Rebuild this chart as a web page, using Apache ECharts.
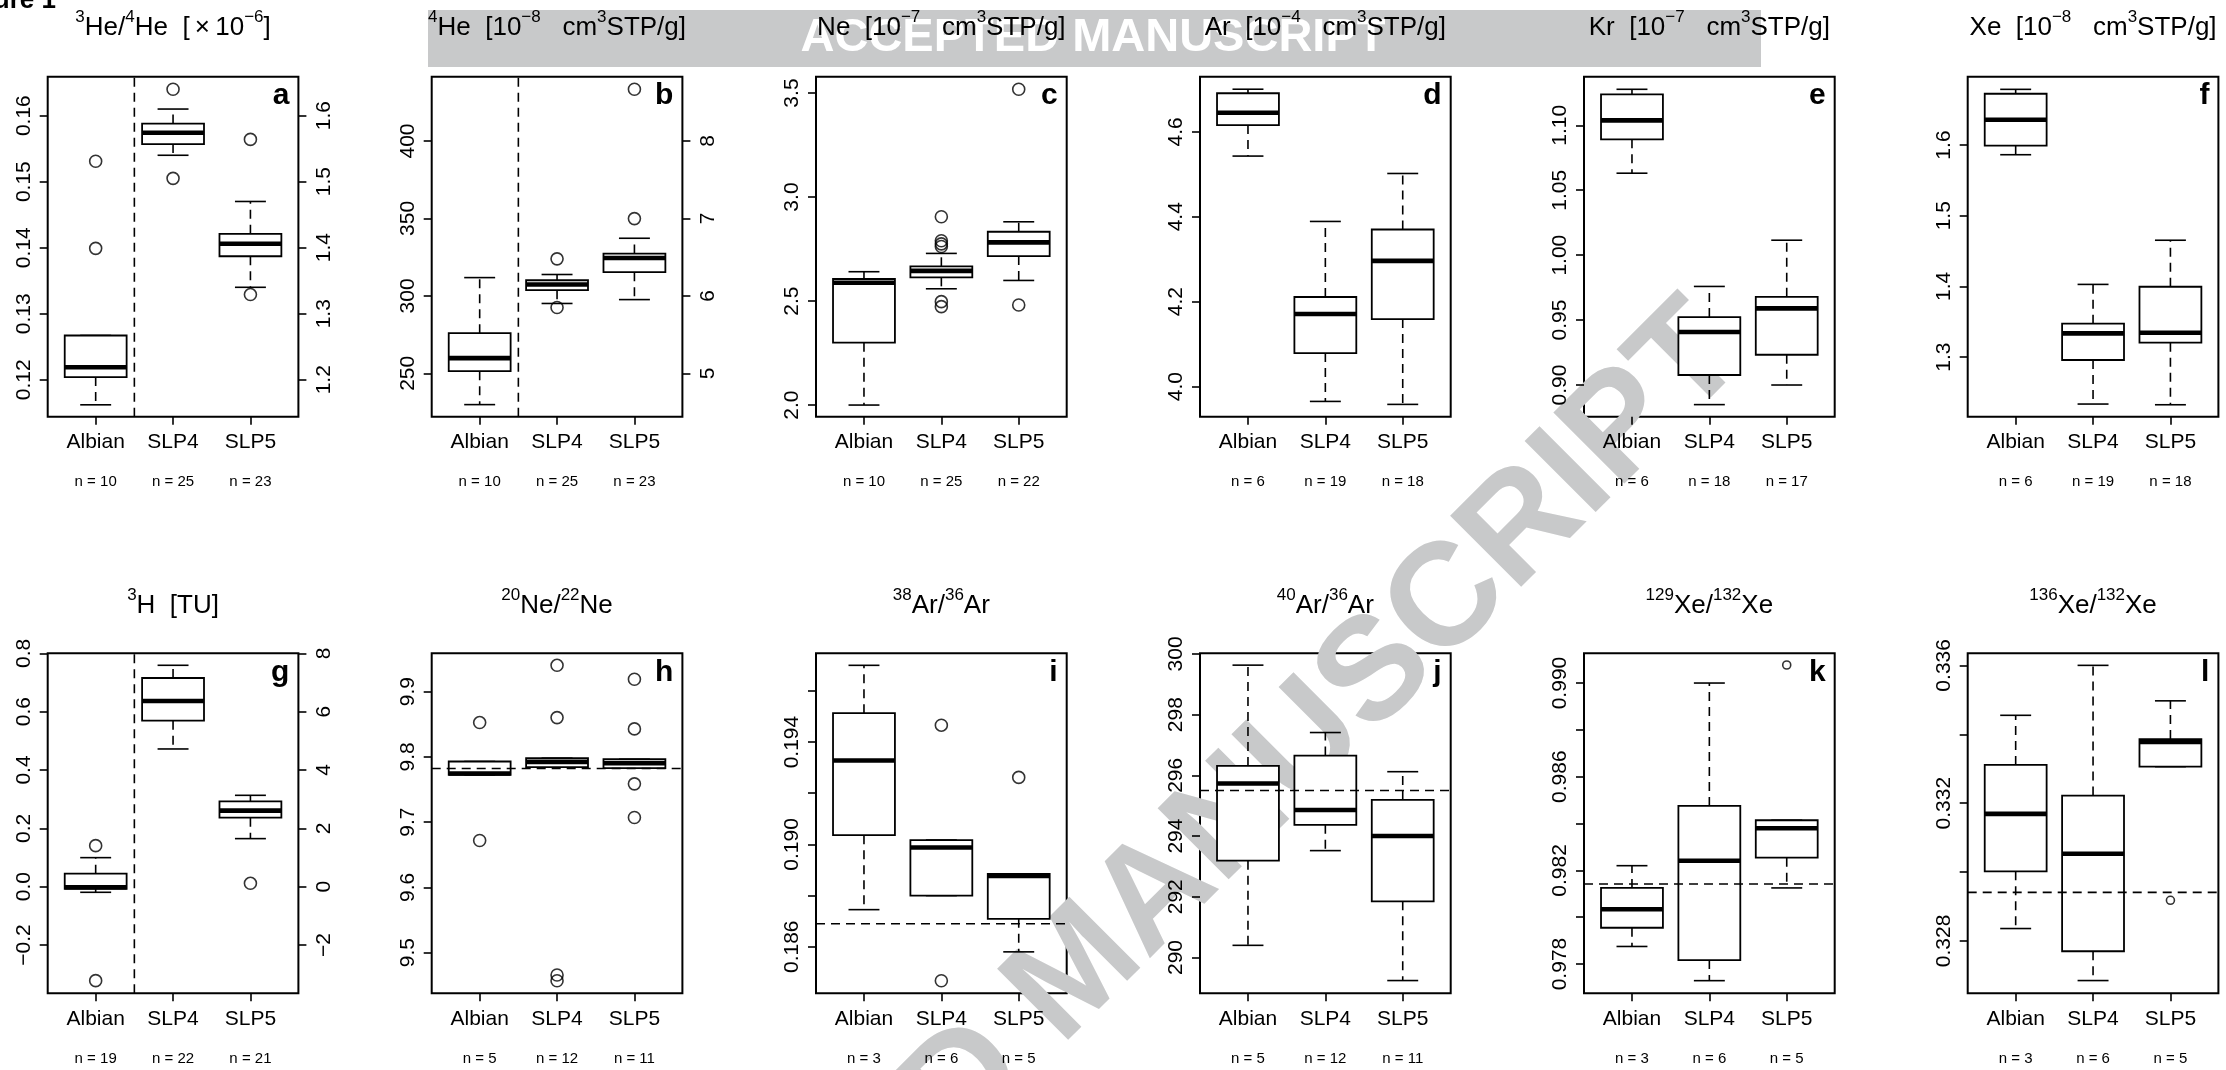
<!DOCTYPE html>
<html><head><meta charset="utf-8">
<script src="https://cdn.jsdelivr.net/npm/echarts@6/dist/echarts.min.js"></script>
<style>html,body{margin:0;padding:0;background:#fff}#c{width:2226px;height:1070px}</style>
</head><body><div id="c"></div>
<script>
const categories = ['Albian', 'SLP4', 'SLP5'];

// box stats per category: [lower whisker, Q1, median, Q3, upper whisker]
const aBox = [[0.1162, 0.1204, 0.1219, 0.1267, 0.1267], [0.1540, 0.1557, 0.1574, 0.1588, 0.1610], [0.1340, 0.1387, 0.1406, 0.1421, 0.1470]];
const aOut = [[1, 0.1531], [1, 0.1399], [2, 0.1640], [2, 0.1505], [3, 0.1564], [3, 0.1329]];
const aN = [10, 25, 23];
const aTicks = [0.12, 0.13, 0.14, 0.15, 0.16];
const aRightTicks = [1.2, 1.3, 1.4, 1.5, 1.6];

const bBox = [[229.8, 251.4, 259.8, 275.9, 311.8], [295.1, 303.7, 307.3, 310.1, 313.8], [297.6, 315.3, 324.5, 327.3, 337.2]];
const bOut = [[2, 323.9], [2, 292.5], [3, 349.9], [3, 433.4]];
const bN = [10, 25, 23];
const bTicks = [250, 300, 350, 400];
const bRightTicks = [5, 6, 7, 8];

const cBox = [[2.000, 2.300, 2.588, 2.606, 2.641], [2.559, 2.614, 2.645, 2.667, 2.729], [2.599, 2.716, 2.782, 2.833, 2.881]];
const cOut = [[2, 2.905], [2, 2.790], [2, 2.775], [2, 2.762], [2, 2.497], [2, 2.473], [3, 3.518], [3, 2.481]];
const cN = [10, 25, 22];
const cTicks = [2.0, 2.5, 3.0, 3.5];

const dBox = [[4.543, 4.616, 4.645, 4.691, 4.7005], [3.965, 4.079, 4.171, 4.211, 4.389], [3.958, 4.159, 4.296, 4.370, 4.502]];
const dOut = [];
const dN = [6, 19, 18];
const dTicks = [4.0, 4.2, 4.4, 4.6];

const eBox = [[1.0631, 1.0892, 1.1038, 1.1238, 1.1277], [0.8849, 0.9077, 0.9408, 0.9523, 0.9759], [0.9000, 0.9233, 0.9590, 0.9679, 1.0115]];
const eOut = [];
const eN = [6, 18, 17];
const eTicks = [0.90, 0.95, 1.00, 1.05, 1.10];

const fBox = [[1.5863, 1.5991, 1.6358, 1.6726, 1.6788], [1.2335, 1.2958, 1.3335, 1.3472, 1.4028], [1.2325, 1.3203, 1.3344, 1.3995, 1.4653]];
const fOut = [];
const fN = [6, 19, 18];
const fTicks = [1.3, 1.4, 1.5, 1.6];

const gBox = [[-0.0194, -0.008, -0.002, 0.0446, 0.0994], [0.4720, 0.5691, 0.6366, 0.7154, 0.7589], [0.1646, 0.2366, 0.2606, 0.2926, 0.3131]];
const gOut = [[1, 0.1406], [1, -0.3223], [3, 0.0114]];
const gN = [19, 22, 21];
const gTicks = [-0.2, 0.0, 0.2, 0.4, 0.6, 0.8];
const gRightTicks = [-2, 0, 2, 4, 6, 8];

const hBox = [[9.7724, 9.7724, 9.7745, 9.7929, 9.7929], [9.7842, 9.7842, 9.7923, 9.7980, 9.7980], [9.7827, 9.7827, 9.7903, 9.7964, 9.7964]];
const hOut = [[1, 9.8526], [1, 9.6719], [2, 9.9403], [2, 9.8602], [2, 9.4658], [2, 9.4571], [3, 9.9189], [3, 9.8429], [3, 9.7587], [3, 9.7071]];
const hN = [5, 12, 11];
const hTicks = [9.5, 9.6, 9.7, 9.8, 9.9];
const hRef = 9.7821;

const iBox = [[0.18745, 0.19036, 0.19328, 0.19513, 0.19700], [0.18800, 0.18800, 0.18988, 0.19017, 0.19017], [0.18580, 0.18709, 0.18877, 0.18885, 0.18885]];
const iOut = [[2, 0.19466], [2, 0.18467], [3, 0.19262]];
const iN = [3, 6, 5];
const iTicks = [0.186, 0.188, 0.190, 0.192, 0.194, 0.196];
const iLabels = [0.186, 0.190, 0.194];
const iRef = 0.1869;

const jBox = [[290.40, 293.19, 295.73, 296.31, 299.63], [293.52, 294.37, 294.86, 296.65, 297.41], [289.24, 291.85, 294.00, 295.19, 296.12]];
const jOut = [];
const jN = [5, 12, 11];
const jTicks = [290, 292, 294, 296, 298, 300];
const jRef = 295.5;

const kBox = [[0.97875, 0.97955, 0.98034, 0.98125, 0.98220], [0.97729, 0.97817, 0.98241, 0.98475, 0.99000], [0.98125, 0.98254, 0.98380, 0.98414, 0.98414]];
const kOut = [[3, 0.99077]];
const kN = [3, 6, 5];
const kTicks = [0.978, 0.980, 0.982, 0.984, 0.986, 0.988, 0.990];
const kLabels = [0.978, 0.982, 0.986, 0.990];
const kRef = 0.98142;

const lBox = [[0.32836, 0.33002, 0.33169, 0.33311, 0.33455], [0.32685, 0.32770, 0.33053, 0.33222, 0.33600], [0.33306, 0.33306, 0.33378, 0.33386, 0.33497]];
const lOut = [[3, 0.32918]];
const lN = [3, 6, 5];
const lTicks = [0.328, 0.330, 0.332, 0.334, 0.336];
const lLabels = [0.328, 0.332, 0.336];
const lRef = 0.32941;

const FONT = '"Liberation Sans", Arial, Helvetica, sans-serif';
const S = s => '{s|' + s + '}';
const T = s => '{t|' + s + '}';
const neg = (v, d) => (v < 0 ? '\u2212' : '') + Math.abs(v).toFixed(d);

const panels = [
  {letter: 'a', box: aBox, out: aOut, n: aN, ticks: aTicks, labels: aTicks, fmt: v => v.toFixed(2), min: 0.1144, max: 0.1659,
   right: {f: 10, ticks: aRightTicks, fmt: v => v.toFixed(1)}, vline: 1.5,
   title: S('3') + T('He/') + S('4') + T('He  [\u2009\u00d7\u200910') + S('\u22126') + T(']')},
  {letter: 'b', box: bBox, out: bOut, n: bN, ticks: bTicks, labels: bTicks, fmt: v => String(v), min: 222.0, max: 441.5,
   right: {f: 1 / 50, ticks: bRightTicks, fmt: v => String(v)}, vline: 1.5,
   title: S('4') + T('He  [10') + S('\u22128') + T('   cm') + S('3') + T('STP/g]')},
  {letter: 'c', box: cBox, out: cOut, n: cN, ticks: cTicks, labels: cTicks, fmt: v => v.toFixed(1), min: 1.944, max: 3.5785,
   title: T('Ne  [10') + S('\u22127') + T('   cm') + S('3') + T('STP/g]')},
  {letter: 'd', box: dBox, out: dOut, n: dN, ticks: dTicks, labels: dTicks, fmt: v => v.toFixed(1), min: 3.929, max: 4.730,
   title: T('Ar  [10') + S('\u22124') + T('   cm') + S('3') + T('STP/g]')},
  {letter: 'e', box: eBox, out: eOut, n: eN, ticks: eTicks, labels: eTicks, fmt: v => v.toFixed(2), min: 0.8756, max: 1.1374,
   title: T('Kr  [10') + S('\u22127') + T('   cm') + S('3') + T('STP/g]')},
  {letter: 'f', box: fBox, out: fOut, n: fN, ticks: fTicks, labels: fTicks, fmt: v => v.toFixed(1), min: 1.2156, max: 1.6967,
   title: T('Xe  [10') + S('\u22128') + T('   cm') + S('3') + T('STP/g]')},
  {letter: 'g', box: gBox, out: gOut, n: gN, ticks: gTicks, labels: gTicks, fmt: v => neg(v, 1), min: -0.3657, max: 0.8,
   right: {f: 10, ticks: gRightTicks, fmt: v => neg(v, 0)}, vline: 1.5,
   title: S('3') + T('H  [TU]')},
  {letter: 'h', box: hBox, out: hOut, n: hN, ticks: hTicks, labels: hTicks, fmt: v => v.toFixed(1), min: 9.4378, max: 9.9587, ref: hRef,
   title: S('20') + T('Ne/') + S('22') + T('Ne')},
  {letter: 'i', box: iBox, out: iOut, n: iN, ticks: iTicks, labels: iLabels, fmt: v => v.toFixed(3), min: 0.18418, max: 0.19747, ref: iRef,
   title: S('38') + T('Ar/') + S('36') + T('Ar')},
  {letter: 'j', box: jBox, out: jOut, n: jN, ticks: jTicks, labels: jTicks, fmt: v => String(v), min: 288.82, max: 300.02, ref: jRef,
   title: S('40') + T('Ar/') + S('36') + T('Ar')},
  {letter: 'k', box: kBox, out: kOut, n: kN, ticks: kTicks, labels: kLabels, fmt: v => v.toFixed(3), min: 0.97675, max: 0.99127, ref: kRef, small: true,
   title: S('129') + T('Xe/') + S('132') + T('Xe')},
  {letter: 'l', box: lBox, out: lOut, n: lN, ticks: lTicks, labels: lLabels, fmt: v => v.toFixed(3), min: 0.32648, max: 0.33635, ref: lRef, small: true,
   title: S('136') + T('Xe/') + S('132') + T('Xe')}
];

const colLeft = [47.7, 431.7, 816, 1200, 1584, 1967.7];
const rowTop = [76.7, 653.3];
const titleY = [25, 603];
const PW = 250.7, PH = 340;
const TITLE_LH = 32;

function renderBox(params, api) {
  const x = api.value(0);
  const lw = api.value(1), q1 = api.value(2), md = api.value(3), q3 = api.value(4), uw = api.value(5);
  const c = (xx, yy) => api.coord([xx, yy]);
  const dash = {stroke: '#000', lineWidth: 1.6, lineDash: [9, 6], fill: null};
  const solid = {stroke: '#000', lineWidth: 1.6, fill: null};
  const ln = (p1, p2, st) => ({type: 'line', shape: {x1: p1[0], y1: p1[1], x2: p2[0], y2: p2[1]}, style: st});
  const tl = c(x - 0.4, q3), br = c(x + 0.4, q1);
  return {type: 'group', children: [
    ln(c(x, q3), c(x, uw), dash),
    ln(c(x, q1), c(x, lw), dash),
    ln(c(x - 0.2, uw), c(x + 0.2, uw), solid),
    ln(c(x - 0.2, lw), c(x + 0.2, lw), solid),
    {type: 'rect', shape: {x: tl[0], y: tl[1], width: br[0] - tl[0], height: br[1] - tl[1]},
     style: {fill: '#fff', stroke: '#000', lineWidth: 1.8}},
    ln(c(x - 0.4, md), c(x + 0.4, md), {stroke: '#000', lineWidth: 4.6, fill: null})
  ]};
}

const grid = [], xAxis = [], yAxis = [], series = [], graphic = [], title = [];
const tickStyle = {color: '#000', width: 1.6};

panels.forEach((p, i) => {
  const row = Math.floor(i / 6), col = i % 6;
  const left = colLeft[col], top = rowTop[row];
  grid.push({left: left, top: top, width: PW, height: PH, show: true, borderColor: '#000', borderWidth: 2,
             backgroundColor: 'rgba(0,0,0,0)', containLabel: false, outerBoundsMode: 'none'});
  const xi = xAxis.length;
  xAxis.push({type: 'value', gridIndex: i, min: 0.38, max: 3.62, position: 'bottom',
    axisLine: {show: false, onZero: false}, splitLine: {show: false},
    axisTick: {show: true, customValues: [1, 2, 3], length: 8, lineStyle: tickStyle},
    axisLabel: {show: true, customValues: [1, 2, 3], formatter: v => categories[Math.round(v) - 1],
                fontSize: 21, fontFamily: FONT, color: '#000', margin: 15}});
  xAxis.push({type: 'value', gridIndex: i, min: 0.38, max: 3.62, position: 'bottom', offset: 0,
    axisLine: {show: false, onZero: false}, splitLine: {show: false}, axisTick: {show: false},
    axisLabel: {show: true, customValues: [1, 2, 3], formatter: v => 'n = ' + p.n[Math.round(v) - 1],
                fontSize: 15, fontFamily: FONT, color: '#000', margin: 58}});
  const yi = yAxis.length;
  yAxis.push({type: 'value', gridIndex: i, min: p.min, max: p.max, position: 'left',
    axisLine: {show: false, onZero: false}, splitLine: {show: false},
    axisTick: {show: true, customValues: p.ticks, length: 8, lineStyle: tickStyle},
    axisLabel: {show: true, customValues: p.labels, formatter: p.fmt, rotate: 90,
                fontSize: 21, fontFamily: FONT, color: '#000', margin: 13}});
  if (p.right) {
    yAxis.push({type: 'value', gridIndex: i, min: p.min * p.right.f, max: p.max * p.right.f, position: 'right',
      axisLine: {show: false, onZero: false}, splitLine: {show: false},
      axisTick: {show: true, customValues: p.right.ticks, length: 8, lineStyle: tickStyle},
      axisLabel: {show: true, customValues: p.right.ticks, formatter: p.right.fmt, rotate: 90,
                  fontSize: 21, fontFamily: FONT, color: '#000', margin: 15}});
  }
  series.push({type: 'custom', xAxisIndex: xi, yAxisIndex: yi, z: 2, renderItem: renderBox,
    encode: {x: 0, y: [1, 2, 3, 4, 5]},
    data: p.box.map((b, k) => [k + 1].concat(b))});
  series.push({type: 'scatter', xAxisIndex: xi, yAxisIndex: yi, z: 3, symbol: 'circle',
    symbolSize: p.small ? 8 : 12,
    itemStyle: {color: 'rgba(0,0,0,0)', borderColor: '#000', borderWidth: 1.6},
    data: p.out.map(o => [o[0], o[1]])});
  if (p.vline !== undefined) {
    series.push({type: 'line', xAxisIndex: xi, yAxisIndex: yi, z: 4, showSymbol: false, symbol: 'none',
      lineStyle: {color: '#000', width: 1.6, type: [9, 6]},
      data: [[p.vline, p.min], [p.vline, p.max]]});
  }
  if (p.ref !== undefined) {
    series.push({type: 'line', xAxisIndex: xi, yAxisIndex: yi, z: 4, showSymbol: false, symbol: 'none',
      lineStyle: {color: '#000', width: 1.6, type: [9, 6]},
      data: [[0.38, p.ref], [3.62, p.ref]]});
  }
  graphic.push({type: 'text', x: left + PW - 9, y: top + 19, z: 10,
    style: {text: p.letter, font: 'bold 30px ' + FONT, fill: '#000', textAlign: 'right', textVerticalAlign: 'middle'}});
  title.push({text: p.title, left: left + PW / 2, top: titleY[row] - TITLE_LH / 2, textAlign: 'center',
    padding: 0, z: 10,
    textStyle: {fontWeight: 'normal', rich: {
      t: {fontSize: 26, fontWeight: 'normal', fontFamily: FONT, color: '#000', lineHeight: TITLE_LH, verticalAlign: 'bottom'},
      s: {fontSize: 17, fontWeight: 'normal', fontFamily: FONT, color: '#000', lineHeight: 17, verticalAlign: 'top'}
    }}});
});

// manuscript watermark decorations
graphic.push({type: 'rect', z: 1, shape: {x: 428, y: 10, width: 1333, height: 57}, style: {fill: '#c8c9ca'}});
graphic.push({type: 'text', z: 4, x: 1093, y: 38,
  style: {text: 'ACCEPTED MANUSCRIPT', font: 'bold 47px ' + FONT, fill: '#fff', textAlign: 'center', textVerticalAlign: 'middle'}});
graphic.push({type: 'text', z: 0, x: 1721, y: 330, rotation: Math.PI / 4,
  style: {text: 'ACCEPTED MANUSCRIPT', font: 'bold 146px ' + FONT, fill: '#c8c9ca', textAlign: 'right', textVerticalAlign: 'middle'}});
graphic.push({type: 'text', z: 6, x: 56, y: 14,
  style: {text: 'Figure 1', font: 'bold 26px ' + FONT, fill: '#000', textAlign: 'right', textVerticalAlign: 'bottom'}});

const chart = echarts.init(document.getElementById('c'), null, {renderer: 'canvas'});
chart.setOption({animation: false, backgroundColor: '#fff', title, grid, xAxis, yAxis, series, graphic});
</script>
</body></html>
